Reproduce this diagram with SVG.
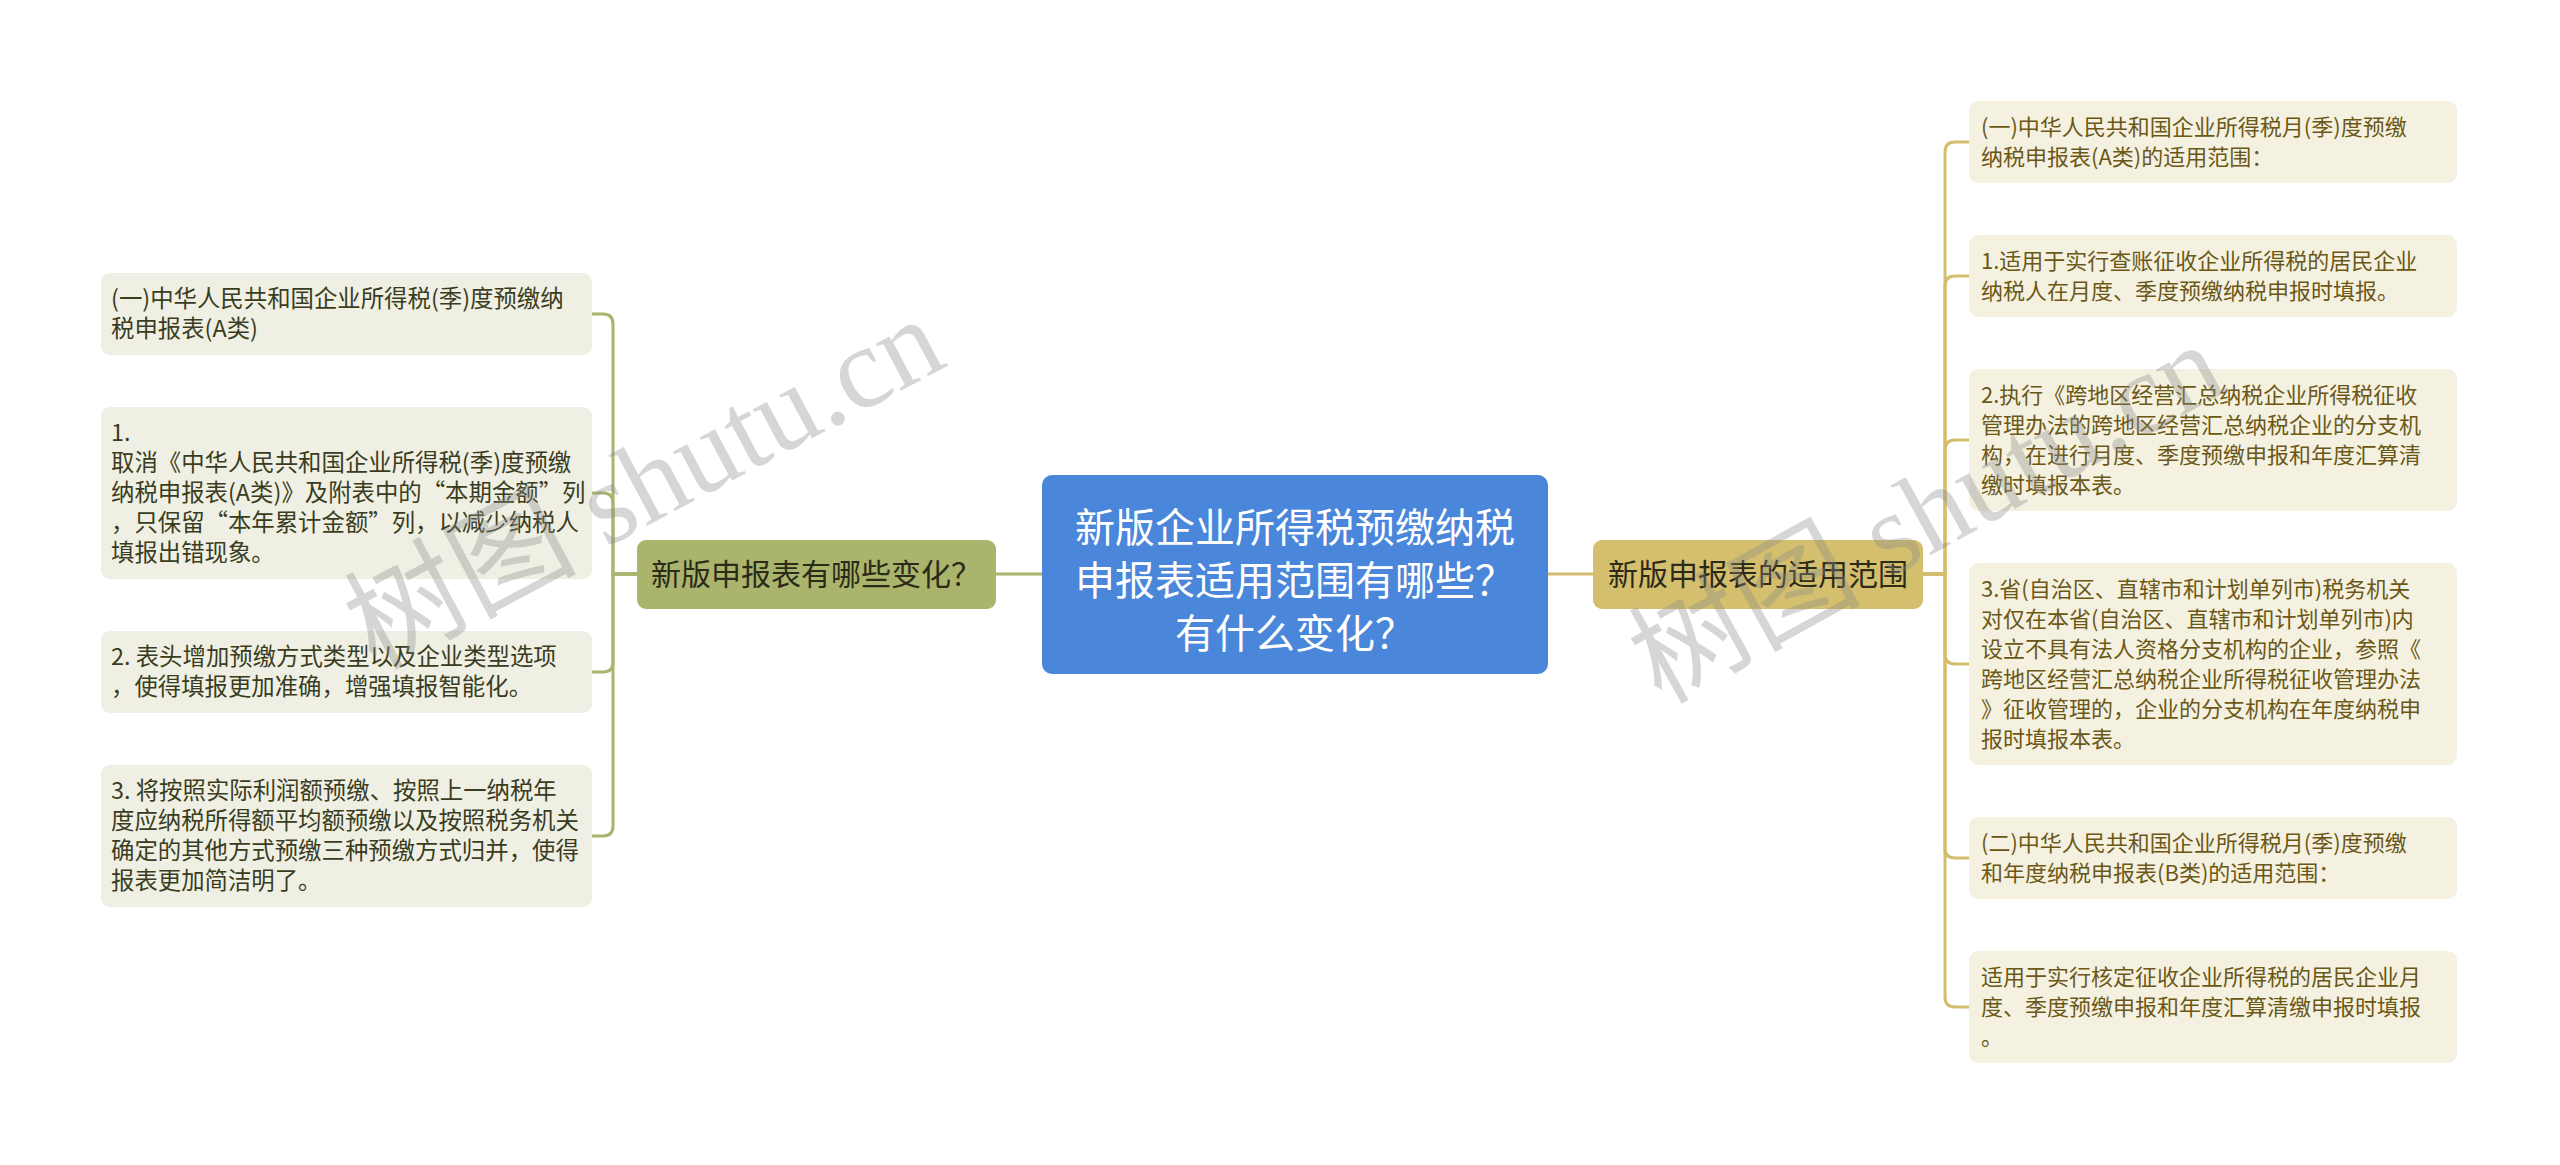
<svg xmlns="http://www.w3.org/2000/svg" width="2560" height="1165" viewBox="0 0 2560 1165">
<style>
text{font-family:"Noto Sans CJK SC","Noto Sans",sans-serif;}
.ll{fill:#eff0e3;}
.rl{fill:#f5f1e1;}
.lt{font-size:23.4px;fill:#3a3c1e;}
.rt{font-size:22px;fill:#6b5816;}
.cl{fill:none;stroke:#a9b46c;stroke-width:3;}
.cr{fill:none;stroke:#d3be6e;stroke-width:3;}
.wm{font-family:"Liberation Serif","Noto Sans CJK SC",serif;font-size:116px;fill:#8a8a8a;fill-opacity:0.35;}
</style>
<rect width="2560" height="1165" fill="#ffffff"/>
<g id="connectors">
<path class="cl" d="M996 574 H1042"/>
<path class="cr" d="M1548 574 H1593"/>
<path class="cl" d="M637 574 H613 V324 Q613 314 603 314 H592"/>
<path class="cl" d="M637 574 H613 V503 Q613 493 603 493 H592"/>
<path class="cl" d="M637 574 H613 V662 Q613 672 603 672 H592"/>
<path class="cl" d="M637 574 H613 V826 Q613 836 603 836 H592"/>
<path class="cr" d="M1923 574 H1945 V152 Q1945 142 1955 142 H1969"/>
<path class="cr" d="M1923 574 H1945 V286 Q1945 276 1955 276 H1969"/>
<path class="cr" d="M1923 574 H1945 V450 Q1945 440 1955 440 H1969"/>
<path class="cr" d="M1923 574 H1945 V654 Q1945 664 1955 664 H1969"/>
<path class="cr" d="M1923 574 H1945 V848 Q1945 858 1955 858 H1969"/>
<path class="cr" d="M1923 574 H1945 V997 Q1945 1007 1955 1007 H1969"/>
</g>
<g id="center">
<rect x="1042" y="475" width="506" height="199" rx="10" fill="#4a86da"/>
<text x="1295" y="542" font-size="40" fill="#ffffff" text-anchor="middle">新版企业所得税预缴纳税</text>
<text x="1295" y="595" font-size="40" fill="#ffffff" text-anchor="middle">申报表适用范围有哪些？</text>
<text x="1295" y="648" font-size="40" fill="#ffffff" text-anchor="middle">有什么变化？</text>
</g>
<g id="branch-left">
<rect x="637" y="540" width="359" height="69" rx="9" fill="#abb46c"/>
<text x="816" y="585" font-size="30" fill="#2a2b18" text-anchor="middle">新版申报表有哪些变化？</text>
</g>
<g id="branch-right">
<rect x="1593" y="540" width="330" height="69" rx="9" fill="#d4bf6e"/>
<text x="1758" y="585" font-size="30" fill="#2e2a18" text-anchor="middle">新版申报表的适用范围</text>
</g>
<g id="left-1">
<rect class="ll" x="101" y="273" width="491" height="82" rx="9"/>
<text class="lt" x="111" y="307">(一)中华人民共和国企业所得税(季)度预缴纳</text>
<text class="lt" x="111" y="337">税申报表(A类)</text>
</g>
<g id="left-2">
<rect class="ll" x="101" y="407" width="491" height="172" rx="9"/>
<text class="lt" x="111" y="441">1.</text>
<text class="lt" x="111" y="471">取消《中华人民共和国企业所得税(季)度预缴</text>
<text class="lt" x="111" y="501">纳税申报表(A类)》及附表中的“本期金额”列</text>
<text class="lt" x="111" y="531">，只保留“本年累计金额”列，以减少纳税人</text>
<text class="lt" x="111" y="561">填报出错现象。</text>
</g>
<g id="left-3">
<rect class="ll" x="101" y="631" width="491" height="82" rx="9"/>
<text class="lt" x="111" y="665">2. 表头增加预缴方式类型以及企业类型选项</text>
<text class="lt" x="111" y="695">，使得填报更加准确，增强填报智能化。</text>
</g>
<g id="left-4">
<rect class="ll" x="101" y="765" width="491" height="142" rx="9"/>
<text class="lt" x="111" y="799">3. 将按照实际利润额预缴、按照上一纳税年</text>
<text class="lt" x="111" y="829">度应纳税所得额平均额预缴以及按照税务机关</text>
<text class="lt" x="111" y="859">确定的其他方式预缴三种预缴方式归并，使得</text>
<text class="lt" x="111" y="889">报表更加简洁明了。</text>
</g>
<g id="right-1">
<rect class="rl" x="1969" y="101" width="488" height="82" rx="9"/>
<text class="rt" x="1981" y="135">(一)中华人民共和国企业所得税月(季)度预缴</text>
<text class="rt" x="1981" y="165">纳税申报表(A类)的适用范围：</text>
</g>
<g id="right-2">
<rect class="rl" x="1969" y="235" width="488" height="82" rx="9"/>
<text class="rt" x="1981" y="269">1.适用于实行查账征收企业所得税的居民企业</text>
<text class="rt" x="1981" y="299">纳税人在月度、季度预缴纳税申报时填报。</text>
</g>
<g id="right-3">
<rect class="rl" x="1969" y="369" width="488" height="142" rx="9"/>
<text class="rt" x="1981" y="403">2.执行《跨地区经营汇总纳税企业所得税征收</text>
<text class="rt" x="1981" y="433">管理办法的跨地区经营汇总纳税企业的分支机</text>
<text class="rt" x="1981" y="463">构，在进行月度、季度预缴申报和年度汇算清</text>
<text class="rt" x="1981" y="493">缴时填报本表。</text>
</g>
<g id="right-4">
<rect class="rl" x="1969" y="563" width="488" height="202" rx="9"/>
<text class="rt" x="1981" y="597">3.省(自治区、直辖市和计划单列市)税务机关</text>
<text class="rt" x="1981" y="627">对仅在本省(自治区、直辖市和计划单列市)内</text>
<text class="rt" x="1981" y="657">设立不具有法人资格分支机构的企业，参照《</text>
<text class="rt" x="1981" y="687">跨地区经营汇总纳税企业所得税征收管理办法</text>
<text class="rt" x="1981" y="717">》征收管理的，企业的分支机构在年度纳税申</text>
<text class="rt" x="1981" y="747">报时填报本表。</text>
</g>
<g id="right-5">
<rect class="rl" x="1969" y="817" width="488" height="82" rx="9"/>
<text class="rt" x="1981" y="851">(二)中华人民共和国企业所得税月(季)度预缴</text>
<text class="rt" x="1981" y="881">和年度纳税申报表(B类)的适用范围：</text>
</g>
<g id="right-6">
<rect class="rl" x="1969" y="951" width="488" height="112" rx="9"/>
<text class="rt" x="1981" y="985">适用于实行核定征收企业所得税的居民企业月</text>
<text class="rt" x="1981" y="1015">度、季度预缴申报和年度汇算清缴申报时填报</text>
<text class="rt" x="1981" y="1045">。</text>
</g>
<g id="watermarks">
<text class="wm" x="645" y="522" text-anchor="middle" transform="rotate(-28 645 485)">树图 shutu.cn</text>
<text class="wm" x="1927" y="552" text-anchor="middle" transform="rotate(-29 1927 514)">树图 shutu.cn</text>
</g>
</svg>
